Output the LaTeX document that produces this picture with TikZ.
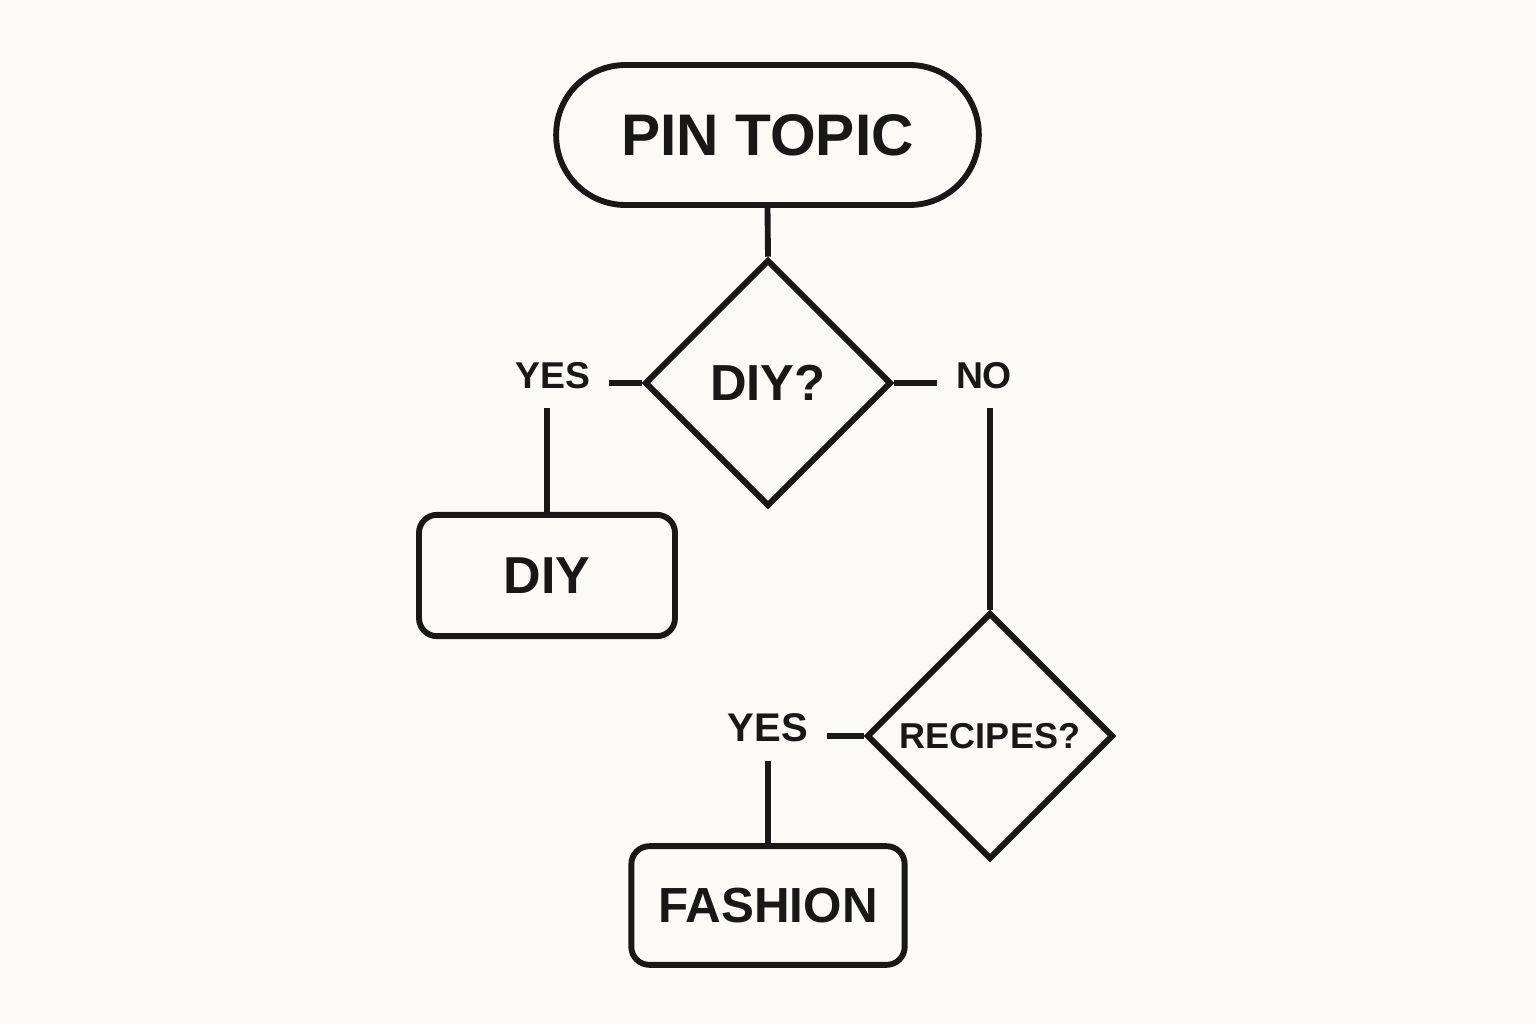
\documentclass[tikz,border=0pt]{standalone}
\usepackage{fontspec}
\setmainfont{Liberation Sans}
\usetikzlibrary{shapes.geometric}

\definecolor{ink}{RGB}{24,24,24}
\definecolor{paper}{RGB}{251,250,247}

\tikzset{every picture/.style={line width=4.4pt}}
\tikzset{
  terminal/.style={draw=ink, rounded corners=52pt, minimum width=317pt, minimum height=105pt, inner sep=0pt, text=ink, font=\bfseries\fontsize{44}{50}\selectfont},
  decision/.style={draw=ink, diamond, aspect=1, minimum width=185pt, minimum height=185pt, inner sep=0pt, text=ink},
  topicbox/.style={draw=ink, rounded corners=13.5pt, inner sep=0pt, text=ink},
  answer/.style={inner sep=12pt, text=ink, font=\bfseries\fontsize{28}{32}\selectfont},
}

\begin{document}
\begin{tikzpicture}[x=0.75pt,y=0.75pt,yscale=-1,xscale=1]
                  % Background
                  \fill[paper] (0,0) rectangle (1536,1024);

                  % Start
                  \node[terminal] (pin) at (767.5,135) {PIN TOPIC};
                  % Decision: DIY?
                  \node[decision, font=\bfseries\fontsize{38}{44}\selectfont] (dq) at (768,383) {DIY?};
                  % Text Node
                  \node[answer] (yes1) at (553,376) {YES};
                  % Text Node
                  \node[answer] (no) at (984,376) {NO};
                  % Result: DIY
                  \node[topicbox, minimum width=192pt, minimum height=91pt, font=\bfseries\fontsize{39}{44}\selectfont] (diy) at (547,575.5) {DIY};
                  % Decision: RECIPES?
                  \node[decision, font=\bfseries\fontsize{27}{32}\selectfont] (rq) at (990,736) {RECIPES?};
                  % Text Node
                  \node[answer, font=\bfseries\fontsize{30}{34}\selectfont] (yes2) at (768,728) {YES};
                  % Result: FASHION
                  \node[topicbox, minimum width=205pt, minimum height=89pt, font=\bfseries\fontsize{37}{44}\selectfont] (fashion) at (768,905.5) {FASHION};

                  %Straight Lines
                  \draw[ink] (pin.south) -- (dq.north);
                  \draw[ink] (dq.west) -- (dq.west -| yes1.east);
                  \draw[ink] (yes1.south -| diy.north) -- (diy.north);
                  \draw[ink] (dq.east) -- (dq.east -| no.west);
                  \draw[ink] (no.south -| rq.north) -- (rq.north);
                  \draw[ink] (rq.west) -- (rq.west -| yes2.east);
                  \draw[ink] (yes2.south -| fashion.north) -- (fashion.north);

\end{tikzpicture}
\end{document}
